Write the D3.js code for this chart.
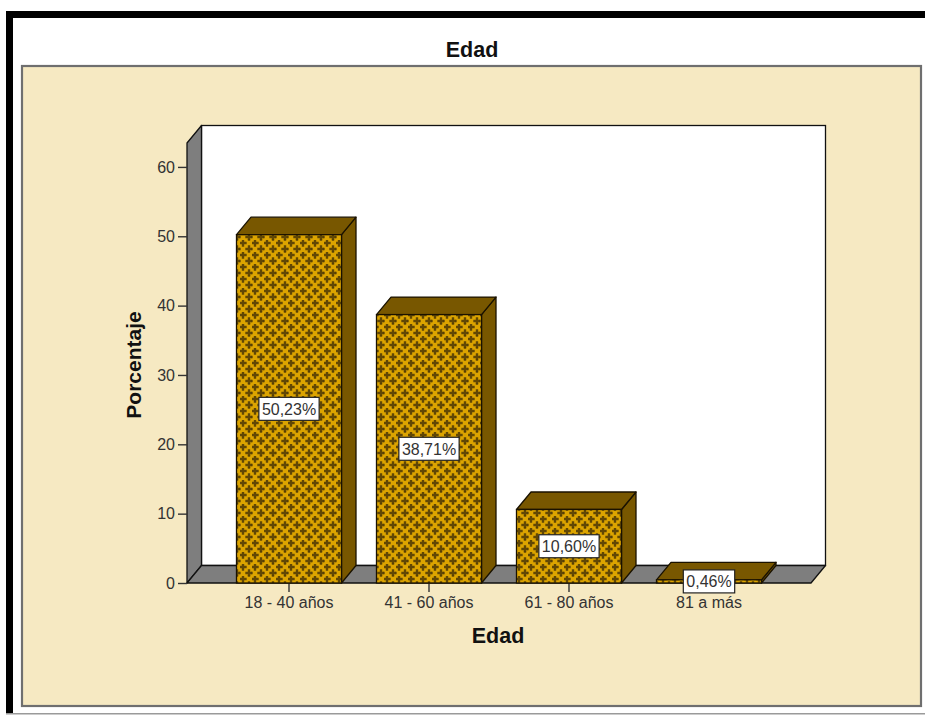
<!DOCTYPE html>
<html>
<head>
<meta charset="utf-8">
<script src="https://cdn.jsdelivr.net/npm/d3@7"></script>
<style>
  body { margin: 0; background: #fff; }
  text { font-family: Arial, "Liberation Sans", sans-serif; }
</style>
</head>
<body>
<svg id="chart" width="925" height="716"></svg>
<script>
// Age distribution (percent of respondents)
const categories = ["18 - 40 años", "41 - 60 años", "61 - 80 años", "81 a más"];
const percentages = [50.23, 38.71, 10.60, 0.46];
const valueLabels = ["50,23%", "38,71%", "10,60%", "0,46%"];
const yTicks = [0, 10, 20, 30, 40, 50, 60];
const chartTitle = "Edad";
const xTitle = "Edad";
const yTitle = "Porcentaje";

const svg = d3.select("#chart");

// page frame
svg.append("rect").attr("width", 925).attr("height", 716).attr("fill", "#fff");
svg.append("rect").attr("x", 6).attr("y", 11).attr("width", 919).attr("height", 7).attr("fill", "#000");
svg.append("rect").attr("x", 6).attr("y", 11).attr("width", 7).attr("height", 703).attr("fill", "#000");
svg.append("rect").attr("x", 6).attr("y", 713).attr("width", 919).attr("height", 1.5).attr("fill", "#9a9a9a");

// chart panel
svg.append("rect")
  .attr("x", 22).attr("y", 66).attr("width", 899).attr("height", 640)
  .attr("fill", "#f6e9c2").attr("stroke", "#6f6f6f").attr("stroke-width", 2.2);

// title
svg.append("text")
  .attr("x", 472).attr("y", 56.5)
  .attr("text-anchor", "middle")
  .attr("font-size", 21.5).attr("font-weight", "bold").attr("fill", "#111")
  .text(chartTitle);

// cross-hatch fill for bar fronts
const defs = svg.append("defs");
const pat = defs.append("pattern")
  .attr("id", "crossFill")
  .attr("patternUnits", "userSpaceOnUse")
  .attr("width", 12).attr("height", 12);
pat.append("rect").attr("width", 12).attr("height", 12).attr("fill", "#dca400");
const plus = (cx, cy) =>
  `M${cx - 3.7},${cy - 1.2}h2.5v-2.5h2.4v2.5h2.5v2.4h-2.5v2.5h-2.4v-2.5h-2.5z`;
[[3, 3], [9, 9], [-3, 9], [15, 9], [9, -3], [9, 15], [15, 15], [-3, -3], [15, -3], [-3, 15]].forEach(([cx, cy]) => {
  pat.append("path").attr("d", plus(cx, cy)).attr("fill", "#4f3a05").attr("opacity", 0.88);
});

// scales
const frontLeft = 187, frontRight = 811;
const dx = 14.5, dy = -17.5;

const x = d3.scaleBand()
  .domain(categories)
  .range([frontLeft, frontRight])
  .paddingInner(0.25)
  .paddingOuter(0.3536);

const y = d3.scaleLinear()
  .domain([0, 63.45])
  .range([583, 143]);

const y0 = y(0), yTop = y(63.45);
const wallColor = "#7e7e7e";

// back wall
svg.append("rect")
  .attr("x", frontLeft + dx).attr("y", yTop + dy)
  .attr("width", frontRight - frontLeft).attr("height", y0 - yTop)
  .attr("fill", "#fff").attr("stroke", "#111").attr("stroke-width", 1.3);

// left wall
svg.append("path")
  .attr("d", `M${frontLeft},${y0}L${frontLeft},${yTop}L${frontLeft + dx},${yTop + dy}L${frontLeft + dx},${y0 + dy}Z`)
  .attr("fill", wallColor).attr("stroke", "#111").attr("stroke-width", 1.3).attr("stroke-linejoin", "round");

// floor
svg.append("path")
  .attr("d", `M${frontLeft},${y0}L${frontRight},${y0}L${frontRight + dx},${y0 + dy}L${frontLeft + dx},${y0 + dy}Z`)
  .attr("fill", wallColor).attr("stroke", "#111").attr("stroke-width", 1.3).attr("stroke-linejoin", "round");

// axes
const yAxis = d3.axisLeft(y).tickValues(yTicks).tickSize(9).tickPadding(3);
const gy = svg.append("g").attr("transform", `translate(${frontLeft},0)`).call(yAxis);
gy.select(".domain").remove();
gy.selectAll(".tick line").attr("stroke", "#333").attr("stroke-width", 1.4);
gy.selectAll(".tick text").attr("font-size", 16).attr("fill", "#333").attr("font-family", "Arial, 'Liberation Sans', sans-serif");

const xAxis = d3.axisBottom(x).tickSize(9).tickPadding(5);
const gx = svg.append("g").attr("transform", `translate(0,${y0})`).call(xAxis);
gx.select(".domain").remove();
gx.selectAll(".tick line").attr("stroke", "#333").attr("stroke-width", 1.4);
gx.selectAll(".tick text").attr("font-size", 16).attr("fill", "#333").attr("font-family", "Arial, 'Liberation Sans', sans-serif");

// bars
const faceDark = "#785700";
const bars = svg.append("g");
categories.forEach((c, i) => {
  const bx = x(c), bw = x.bandwidth(), by = y(percentages[i]);
  const g = bars.append("g");
  // side face
  g.append("path")
    .attr("d", `M${bx + bw},${by}L${bx + bw + dx},${by + dy}L${bx + bw + dx},${y0 + dy}L${bx + bw},${y0}Z`)
    .attr("fill", faceDark).attr("stroke", "#1a1200").attr("stroke-width", 1.3).attr("stroke-linejoin", "round");
  // top face
  g.append("path")
    .attr("d", `M${bx},${by}L${bx + dx},${by + dy}L${bx + bw + dx},${by + dy}L${bx + bw},${by}Z`)
    .attr("fill", faceDark).attr("stroke", "#1a1200").attr("stroke-width", 1.3).attr("stroke-linejoin", "round");
  // front face
  g.append("rect")
    .attr("x", bx).attr("y", by).attr("width", bw).attr("height", y0 - by)
    .attr("fill", "url(#crossFill)").attr("stroke", "#1a1200").attr("stroke-width", 1.3);
});

// value labels
categories.forEach((c, i) => {
  const cx = x(c) + x.bandwidth() / 2;
  const cy = (y(percentages[i]) + y0) / 2;
  const g = svg.append("g").attr("transform", `translate(${cx},${cy})`);
  const box = g.append("rect").attr("fill", "#fff").attr("stroke", "#222").attr("stroke-width", 1.2);
  const t = g.append("text")
    .attr("text-anchor", "middle").attr("dy", "0.36em")
    .attr("font-size", 16).attr("fill", "#333")
    .text(valueLabels[i]);
  const w = t.node().getComputedTextLength() + 6;
  box.attr("x", -w / 2).attr("y", -11.5).attr("width", w).attr("height", 23);
});

// axis titles
svg.append("text")
  .attr("x", 498).attr("y", 643)
  .attr("text-anchor", "middle")
  .attr("font-size", 21.5).attr("font-weight", "bold").attr("fill", "#111")
  .text(xTitle);

svg.append("text")
  .attr("transform", "translate(141,365) rotate(-90)")
  .attr("text-anchor", "middle")
  .attr("font-size", 21).attr("font-weight", "bold").attr("fill", "#111")
  .text(yTitle);
</script>
</body>
</html>
